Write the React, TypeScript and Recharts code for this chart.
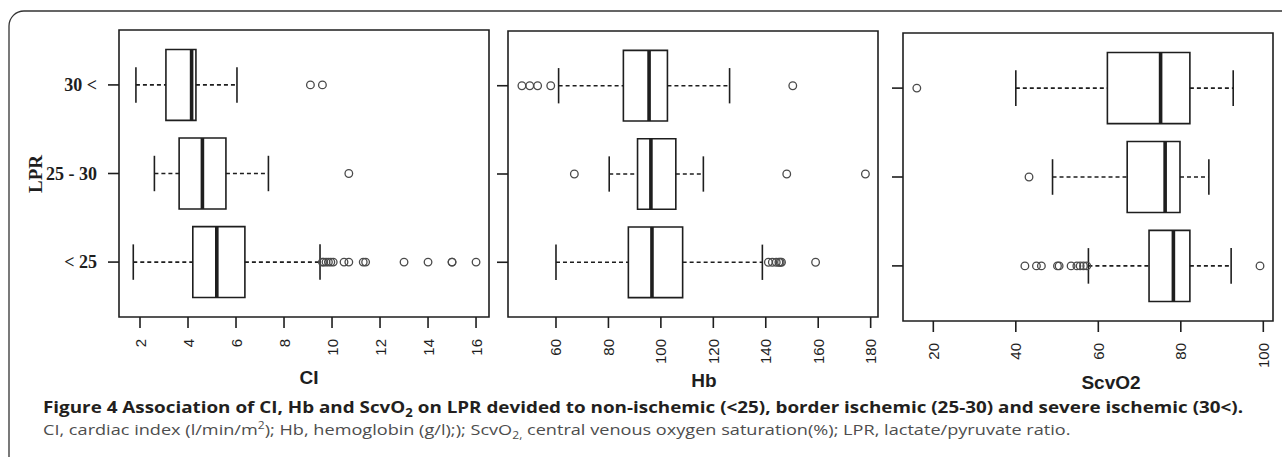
import React from 'react';
import { ScatterChart, XAxis, YAxis, Scatter, ReferenceArea, ReferenceLine } from 'recharts';

// LPR groups, bottom to top (R boxplot order)
const groups = ['< 25', '25 - 30', '30 <'];
const groupPos = [1, 2, 3];

// [lower whisker, Q1, median, Q3, upper whisker] per group
const ciStats = [
  [1.72, 4.2, 5.2, 6.37, 9.5],
  [2.6, 3.63, 4.6, 5.58, 7.35],
  [1.83, 3.08, 4.15, 4.33, 6.04],
];
const ciOutliers = [
  [9.6, 9.65, 9.75, 9.85, 9.95, 10.05, 10.5, 10.7, 11.3, 11.4, 13.0, 14.0, 15.0, 15.0, 16.0],
  [10.7],
  [9.1, 9.6],
];
const ciTicks = [2, 4, 6, 8, 10, 12, 14, 16];

const hbStats = [
  [60, 87.6, 96.6, 108.3, 138.7],
  [80.3, 91.1, 96.2, 105.7, 116.2],
  [61, 85.7, 95.5, 102.5, 126.2],
];
const hbOutliers = [
  [141, 142.5, 144, 145, 145.5, 146, 159],
  [67, 148, 178],
  [47, 50, 53, 58, 150.3],
];
const hbTicks = [60, 80, 100, 120, 140, 160, 180];

const scvStats = [
  [57.6, 72.3, 78.2, 82.2, 92.2],
  [48.9, 67, 76.2, 79.8, 86.8],
  [40, 62.2, 75.1, 82.2, 92.7],
];
const scvOutliers = [
  [42.2, 45, 46.2, 50.1, 50.5, 53.4, 54.8, 55.6, 56.4, 57.2, 99.2],
  [43.2],
  [16],
];
const scvTicks = [20, 40, 60, 80, 100];

const INK = '#1e1e1e';
const BOX_HALF = 0.4;
const CAP_HALF = 0.2;
const Y_DOMAIN: [number, number] = [0.38, 3.62];
const W = 1282;
const H = 457;

type PanelProps = {
  stats: number[][];
  outliers: number[][];
  ticks: number[];
  domain: [number, number];
  left: number;
  top: number;
  width: number;
  height: number;
  showLabels: boolean;
};

const XTick = (props: any) => {
  const { x, y, payload } = props;
  return (
    <text
      x={x}
      y={y}
      dy={5.5}
      transform={`rotate(-90 ${x} ${y})`}
      textAnchor="end"
      fontSize={15}
      fontFamily="'Liberation Sans', Arial, sans-serif"
      fill={INK}
    >
      {payload.value}
    </text>
  );
};

function Panel({ stats, outliers, ticks, domain, left, top, width, height, showLabels }: PanelProps) {
  const yAxisWidth = showLabels ? 110 : 40;
  const points = outliers.flatMap((vals, i) => vals.map((v) => ({ value: v, pos: groupPos[i] })));

  const YTick = (props: any) => {
    const { x, y, payload } = props;
    if (!showLabels) return <g />;
    return (
      <text
        x={x}
        y={y}
        dy={6}
        textAnchor="end"
        fontSize={18}
        fontWeight="bold"
        fontFamily="'Liberation Serif', 'Times New Roman', serif"
        fill={INK}
      >
        {groups[payload.value - 1]}
      </text>
    );
  };

  return (
    <div style={{ position: 'absolute', left: 0, top: 0 }}>
      <ScatterChart
        width={W}
        height={H}
        margin={{
          top,
          left: left - yAxisWidth,
          right: W - left - width,
          bottom: H - top - height - 60,
        }}
      >
        <XAxis
          type="number"
          dataKey="value"
          domain={domain}
          ticks={ticks}
          interval={0}
          height={60}
          axisLine={false}
          tickSize={11}
          tickMargin={11}
          tickLine={{ stroke: INK, strokeWidth: 1.6 }}
          tick={<XTick />}
        />
        <YAxis
          type="number"
          dataKey="pos"
          domain={Y_DOMAIN}
          ticks={groupPos}
          interval={0}
          width={yAxisWidth}
          axisLine={false}
          tickSize={11}
          tickMargin={11}
          tickLine={{ stroke: INK, strokeWidth: 1.6 }}
          tick={<YTick />}
        />
        <ReferenceArea
          x1={domain[0]}
          x2={domain[1]}
          y1={Y_DOMAIN[0]}
          y2={Y_DOMAIN[1]}
          fill="none"
          stroke={INK}
          strokeWidth={1.6}
          ifOverflow="visible"
        />
        {stats.map((s, i) => {
          const p = groupPos[i];
          return (
            <React.Fragment key={i}>
              <ReferenceLine
                segment={[{ x: s[0], y: p }, { x: s[1], y: p }]}
                stroke={INK}
                strokeWidth={1.6}
                strokeDasharray="4 3"
                ifOverflow="visible"
              />
              <ReferenceLine
                segment={[{ x: s[3], y: p }, { x: s[4], y: p }]}
                stroke={INK}
                strokeWidth={1.6}
                strokeDasharray="4 3"
                ifOverflow="visible"
              />
              <ReferenceLine
                segment={[{ x: s[0], y: p - CAP_HALF }, { x: s[0], y: p + CAP_HALF }]}
                stroke={INK}
                strokeWidth={1.6}
                ifOverflow="visible"
              />
              <ReferenceLine
                segment={[{ x: s[4], y: p - CAP_HALF }, { x: s[4], y: p + CAP_HALF }]}
                stroke={INK}
                strokeWidth={1.6}
                ifOverflow="visible"
              />
              <ReferenceArea
                x1={s[1]}
                x2={s[3]}
                y1={p - BOX_HALF}
                y2={p + BOX_HALF}
                fill="#fff"
                fillOpacity={1}
                stroke={INK}
                strokeWidth={1.6}
                ifOverflow="visible"
              />
              <ReferenceLine
                segment={[{ x: s[2], y: p - BOX_HALF }, { x: s[2], y: p + BOX_HALF }]}
                stroke={INK}
                strokeWidth={3.6}
                ifOverflow="visible"
              />
            </React.Fragment>
          );
        })}
        <Scatter
          data={points}
          isAnimationActive={false}
          shape={(p: any) => (
            <circle cx={p.cx} cy={p.cy} r={3.8} fill="none" stroke="#4a4a4a" strokeWidth={1.3} />
          )}
        />
      </ScatterChart>
    </div>
  );
}

const sans = "'Liberation Sans', Arial, sans-serif";
const caption = "'Open Sans', sans-serif";

export default function App() {
  return (
    <div style={{ position: 'relative', width: W, height: H, background: '#fff', overflow: 'hidden' }}>
      <style>{'body{margin:0}'}</style>
      <Panel stats={ciStats} outliers={ciOutliers} ticks={ciTicks} domain={[1.125, 16.54]} left={119} top={30} width={370} height={287} showLabels />
      <Panel stats={hbStats} outliers={hbOutliers} ticks={hbTicks} domain={[41.7, 182.8]} left={508} top={31} width={370} height={286} showLabels={false} />
      <Panel stats={scvStats} outliers={scvOutliers} ticks={scvTicks} domain={[12.65, 102.35]} left={903} top={33} width={370} height={288} showLabels={false} />
      <svg width={W} height={H} style={{ position: 'absolute', left: 0, top: 0, pointerEvents: 'none' }}>
        <rect x={9} y={11} width={1320} height={520} rx={15} fill="none" stroke="#333" strokeWidth={1.3} />
        <text
          x={0}
          y={0}
          transform="translate(42 174) rotate(-90)"
          textAnchor="middle"
          fontSize={19}
          fontWeight="bold"
          fontFamily="'Liberation Serif', 'Times New Roman', serif"
          fill={INK}
        >
          LPR
        </text>
        <text x={309} y={384} textAnchor="middle" fontSize={19} fontWeight="bold" fontFamily={sans} fill={INK}>CI</text>
        <text x={704} y={387} textAnchor="middle" fontSize={19} fontWeight="bold" fontFamily={sans} fill={INK}>Hb</text>
        <text x={1111} y={389} textAnchor="middle" fontSize={19} fontWeight="bold" fontFamily={sans} fill={INK}>ScvO2</text>
        <text x={0} y={0} transform="translate(43 413) scale(1.142 1)" fontSize={16.5} fontWeight="bold" fontFamily={caption} fill="#231f20">
          Figure 4 Association of CI, Hb and ScvO<tspan dy={4} fontSize={11.5}>2</tspan>
          <tspan dy={-4}> on LPR devided to non-ischemic (&lt;25), border ischemic (25-30) and severe ischemic (30&lt;).</tspan>
        </text>
        <text x={0} y={0} transform="translate(43 435) scale(1.21 1)" fontSize={15} fontFamily={caption} fill="#4d4d4d">
          CI, cardiac index (l/min/m<tspan dy={-6} fontSize={10}>2</tspan>
          <tspan dy={6}>); Hb, hemoglobin (g/l);); ScvO</tspan>
          <tspan dy={4} fontSize={10}>2,</tspan>
          <tspan dy={-4}> central venous oxygen saturation(%); LPR, lactate/pyruvate ratio.</tspan>
        </text>
      </svg>
    </div>
  );
}
